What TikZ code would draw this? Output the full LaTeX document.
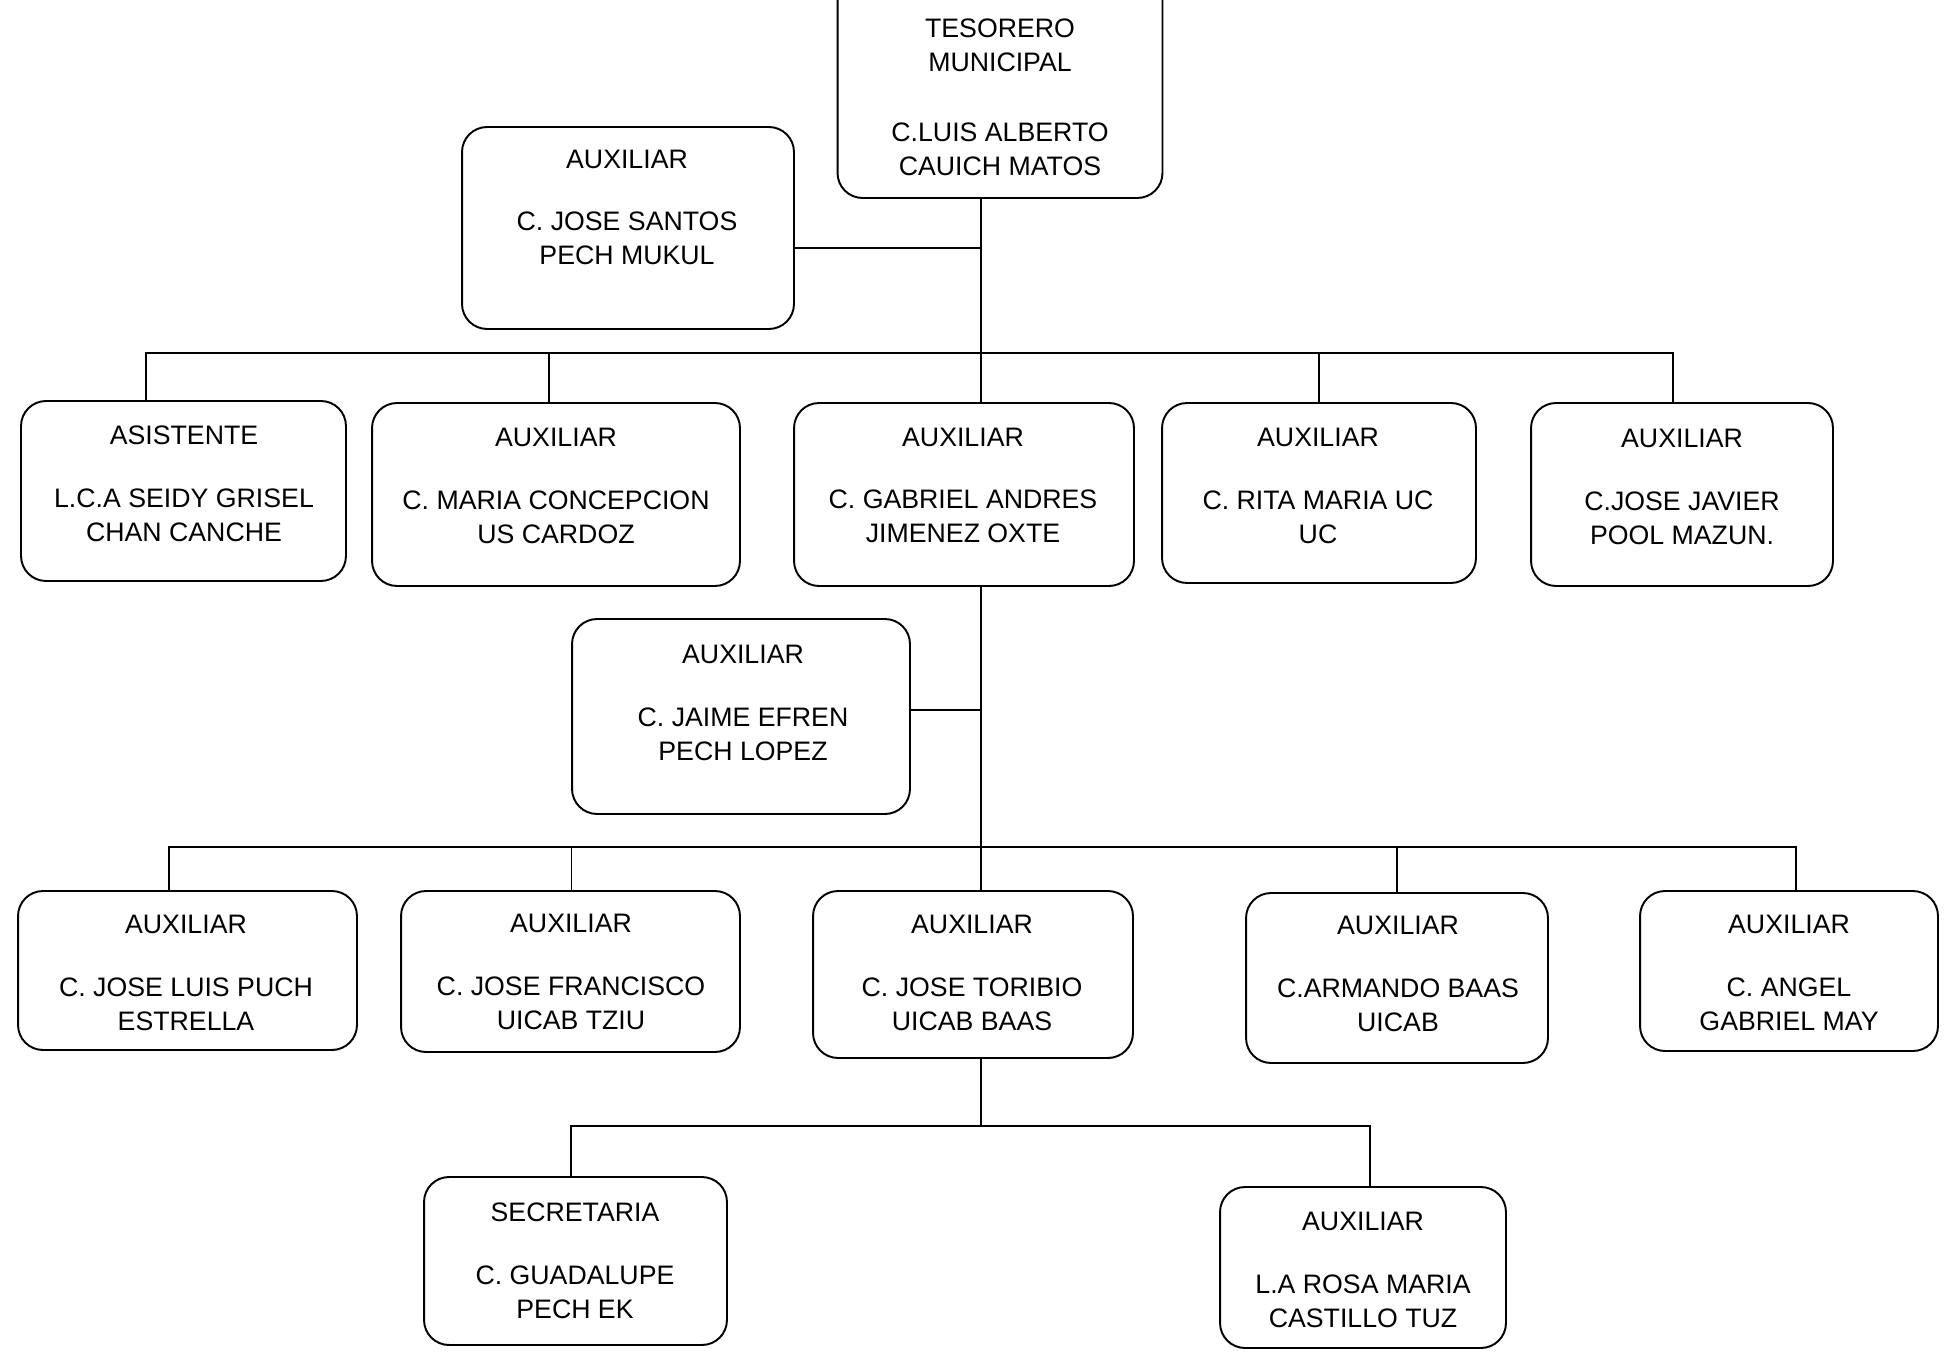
\documentclass[tikz,border=0pt]{standalone}
\usepackage{fontspec}
\setmainfont{Liberation Sans}

\begin{document}
\begin{tikzpicture}[x=0.02cm, y=-0.02cm,
    box/.style={rectangle, draw, rounded corners=0.5cm, line width=1.1pt},
    lbl/.style={align=center, inner sep=0pt, font=\fontsize{15.2}{19.3}\selectfont},
    link/.style={line width=1pt},
]
\useasboundingbox (0,0) rectangle (1946,1364);

% boxes
\node[box, minimum width=6.5cm, minimum height=4.56cm] (tes) at (1000,84) {};
\node[box, minimum width=6.64cm, minimum height=4.04cm] (js) at (628,228) {};
\node[box, minimum width=6.5cm, minimum height=3.6cm] (asi) at (183.5,491) {};
\node[box, minimum width=7.36cm, minimum height=3.66cm] (mc) at (556,494.5) {};
\node[box, minimum width=6.8cm, minimum height=3.66cm] (ga) at (964,494.5) {};
\node[box, minimum width=6.28cm, minimum height=3.6cm] (rm) at (1319,493) {};
\node[box, minimum width=6.04cm, minimum height=3.66cm] (jj) at (1682,494.5) {};
\node[box, minimum width=6.76cm, minimum height=3.9cm] (je) at (741,716.5) {};
\node[box, minimum width=6.78cm, minimum height=3.18cm] (jl) at (187.5,970.5) {};
\node[box, minimum width=6.78cm, minimum height=3.22cm] (jf) at (570.5,971.5) {};
\node[box, minimum width=6.4cm, minimum height=3.34cm] (jt) at (973,974.5) {};
\node[box, minimum width=6.04cm, minimum height=3.4cm] (ab) at (1397,978) {};
\node[box, minimum width=5.96cm, minimum height=3.2cm] (ag) at (1789,971) {};
\node[box, minimum width=6.06cm, minimum height=3.36cm] (sec) at (575.5,1261) {};
\node[box, minimum width=5.72cm, minimum height=3.22cm] (lar) at (1363,1267.5) {};

% texts
\node[lbl] (tes-txt) at (1000,97.5) {TESORERO\\MUNICIPAL\\[20.4pt]C.LUIS ALBERTO\\CAUICH MATOS};
\node[lbl] (js-txt) at (627,207.5) {AUXILIAR\\[16.4pt]C. JOSE SANTOS\\PECH MUKUL};
\node[lbl] (asi-txt) at (184,484) {ASISTENTE\\[16.4pt]L.C.A SEIDY GRISEL\\CHAN CANCHE};
\node[lbl] (mc-txt) at (556,486) {AUXILIAR\\[16.4pt]C. MARIA CONCEPCION\\US CARDOZ};
\node[lbl] (ga-txt) at (963,485.5) {AUXILIAR\\[16.4pt]C. GABRIEL ANDRES\\JIMENEZ OXTE};
\node[lbl] (rm-txt) at (1318,486) {AUXILIAR\\[16.4pt]C. RITA MARIA UC\\UC};
\node[lbl] (jj-txt) at (1682,487) {AUXILIAR\\[16.4pt]C.JOSE JAVIER\\POOL MAZUN.};
\node[lbl] (je-txt) at (743,703) {AUXILIAR\\[16.4pt]C. JAIME EFREN\\PECH LOPEZ};
\node[lbl] (jl-txt) at (186,973) {AUXILIAR\\[16.4pt]C. JOSE LUIS PUCH\\ESTRELLA};
\node[lbl] (jf-txt) at (571,972) {AUXILIAR\\[16.4pt]C. JOSE FRANCISCO\\UICAB TZIU};
\node[lbl] (jt-txt) at (972,973) {AUXILIAR\\[16.4pt]C. JOSE TORIBIO\\UICAB BAAS};
\node[lbl] (ab-txt) at (1398,974) {AUXILIAR\\[16.4pt]C.ARMANDO BAAS\\UICAB};
\node[lbl] (ag-txt) at (1789,973) {AUXILIAR\\[16.4pt]C. ANGEL\\GABRIEL MAY};
\node[lbl] (sec-txt) at (575,1261) {SECRETARIA\\[16.4pt]C. GUADALUPE\\PECH EK};
\node[lbl] (lar-txt) at (1363,1270) {AUXILIAR\\[16.4pt]L.A ROSA MARIA\\CASTILLO TUZ};

% trunk joints
\coordinate (h0) at (981,248);
\coordinate (h1) at (981,353);
\coordinate (h2) at (981,710);
\coordinate (h3) at (981,847);
\coordinate (h4) at (981,1126);

\draw[link] (tes.south -| h1) -- (h1);
\draw[link] (js.east |- h0) -- (h0);
\draw[link] ([xshift=-0.75cm]asi.north) |- ([xshift=-0.18cm]jj.north |- h1) -- ([xshift=-0.18cm]jj.north);
\draw[link] ([xshift=-0.14cm]mc.north) -- ([xshift=-0.14cm]mc.north |- h1);
\draw[link] (h1) -- (ga.north -| h1);
\draw[link] (rm.north) -- (rm.north |- h1);

\draw[link] (ga.south -| h2) -- (h3);
\draw[link] (je.east |- h2) -- (h2);
\draw[link] ([xshift=-0.37cm]jl.north) |- ([xshift=0.14cm]ag.north |- h3) -- ([xshift=0.14cm]ag.north);
\draw[link] ([xshift=0.02cm]jf.north) -- ([xshift=0.02cm]jf.north |- h3);
\draw[link] (h3) -- (jt.north -| h3);
\draw[link] (ab.north) -- (ab.north |- h3);

\draw[link] (jt.south -| h4) -- (h4);
\draw[link] ([xshift=-0.09cm]sec.north) |- ([xshift=0.14cm]lar.north |- h4) -- ([xshift=0.14cm]lar.north);
\end{tikzpicture}
\end{document}
